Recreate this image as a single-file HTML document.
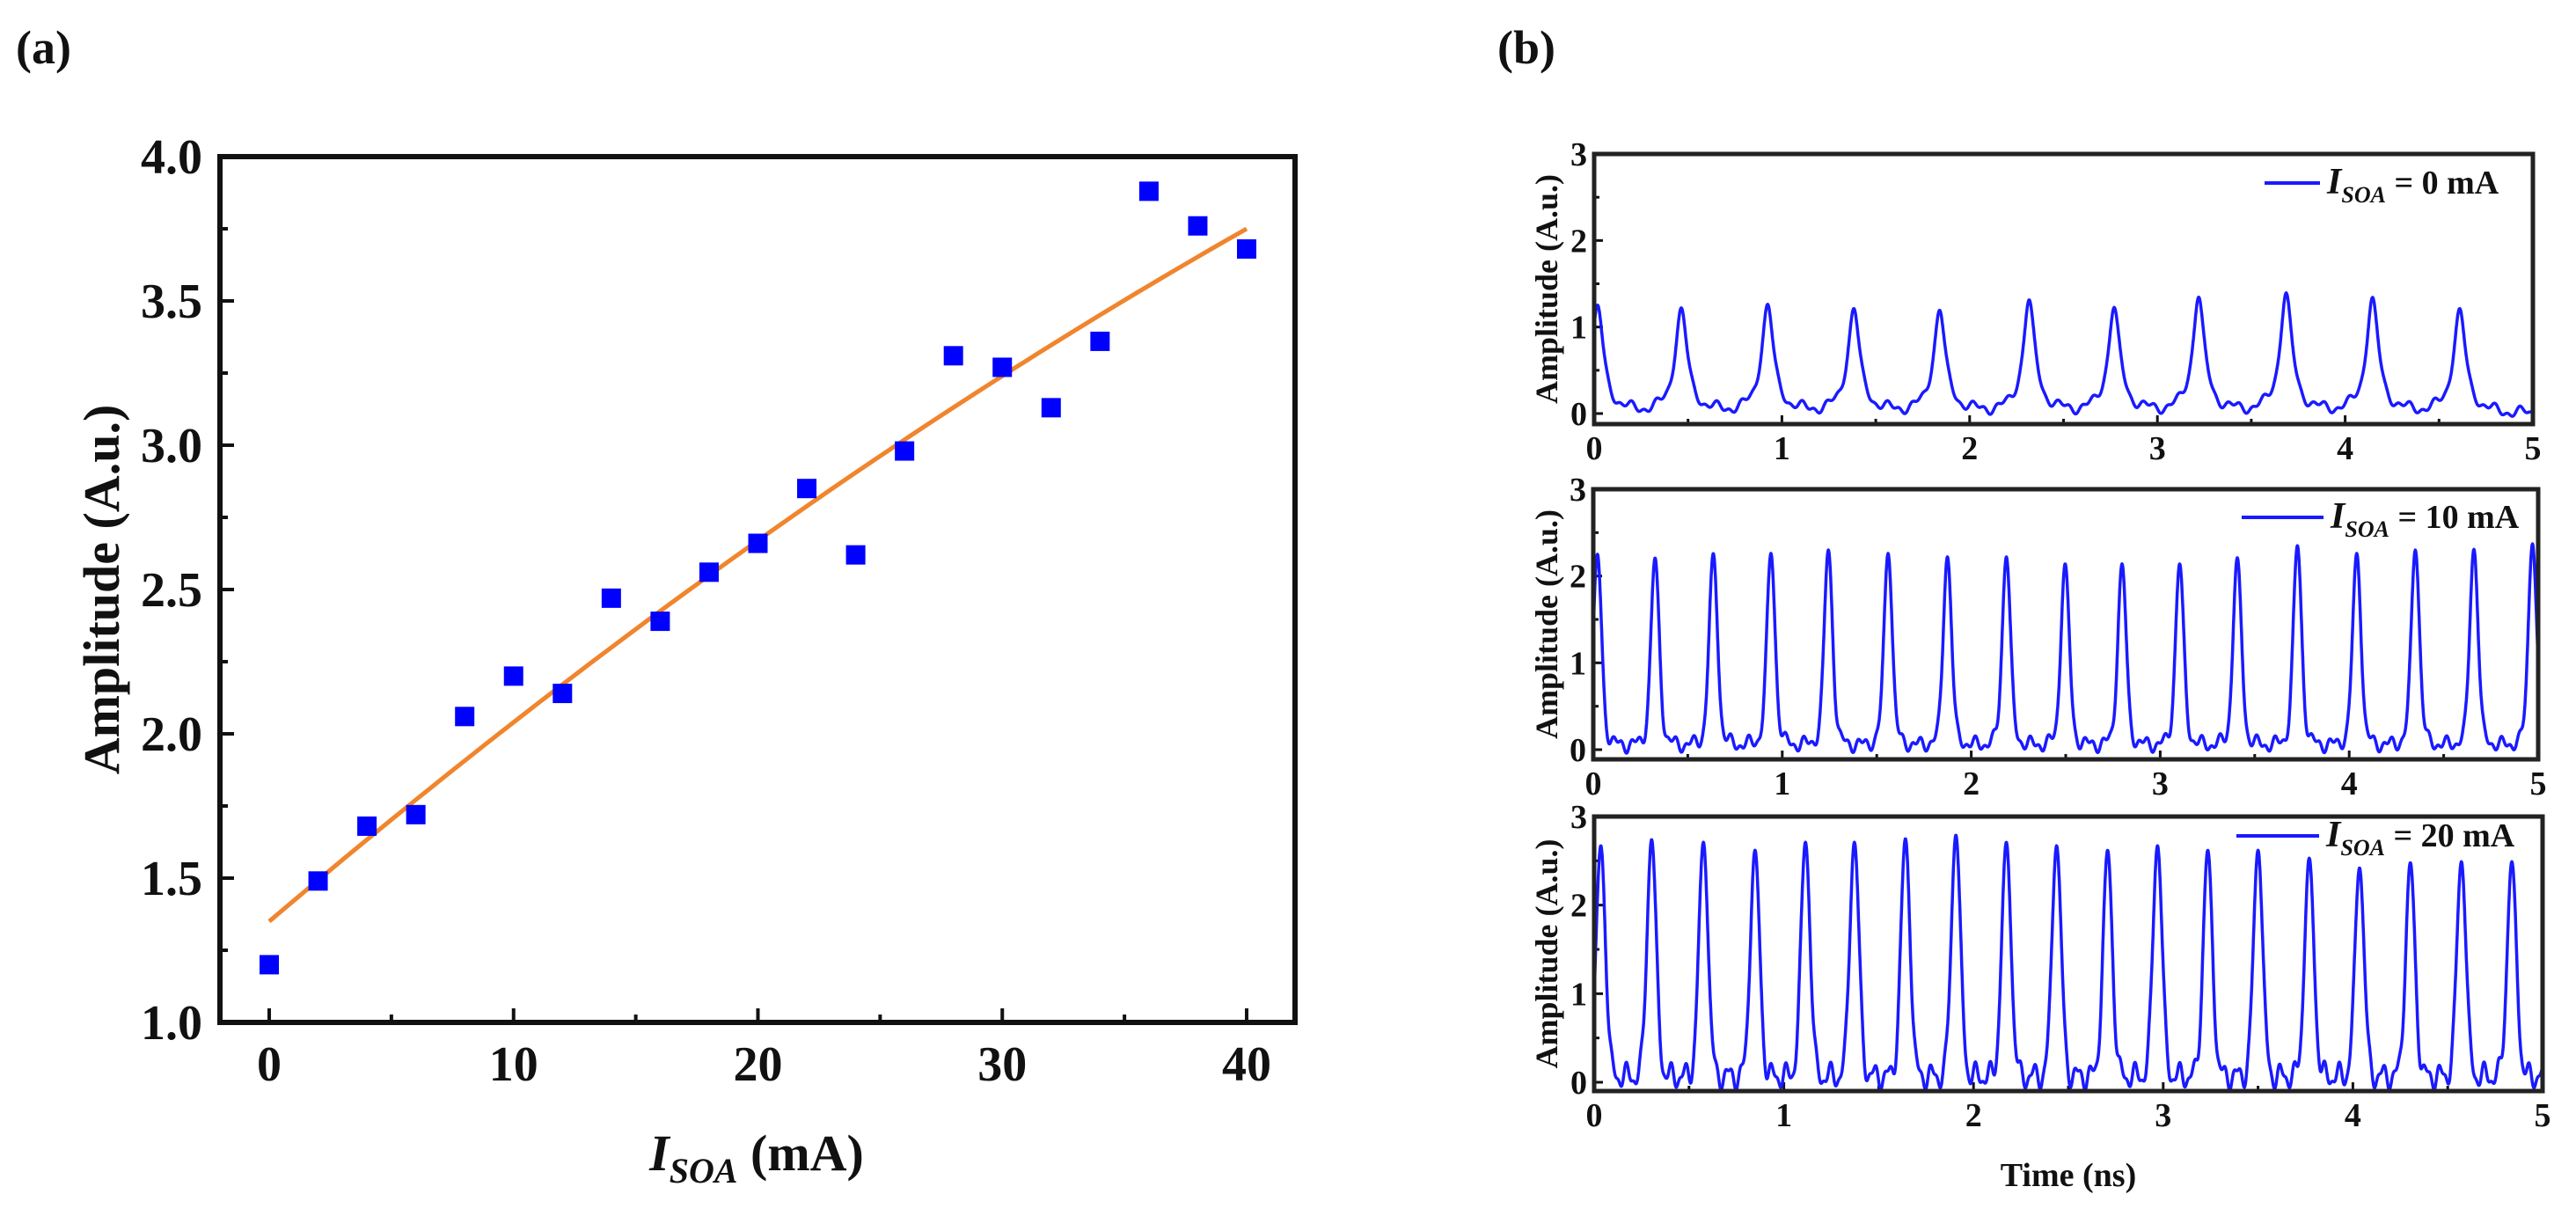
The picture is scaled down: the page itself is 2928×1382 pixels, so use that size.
<!DOCTYPE html>
<html><head><meta charset="utf-8">
<style>
html,body{margin:0;padding:0;background:#fff;}
svg{display:block;}
text{font-family:"Liberation Serif",serif;font-weight:bold;fill:#111;}
</style></head>
<body>
<svg id="fig" width="2928" height="1382" viewBox="0 0 2928 1382" xmlns="http://www.w3.org/2000/svg">
<defs>
<clipPath id="clipA"><rect x="250" y="178" width="1222" height="984"/></clipPath>
<clipPath id="clipB0"><rect x="1812" y="175" width="1067" height="307"/></clipPath>
<clipPath id="clipB1"><rect x="1811" y="556" width="1074" height="307"/></clipPath>
<clipPath id="clipB2"><rect x="1812" y="928" width="1078" height="312"/></clipPath>
</defs>
<text x="18" y="72" font-size="54">(a)</text>
<text x="1702" y="72" font-size="54">(b)</text>
<g id="panelA"></g>
<g id="panelB"></g>
</svg>
<script>
// ---------- Panel (a) data ----------
const currents = [0,2,4,6,8,10,12,14,16,18,20,22,24,26,28,30,32,34,36,38,40];
const amplitudes = [1.20,1.49,1.68,1.72,2.06,2.20,2.14,2.47,2.39,2.56,2.66,2.85,2.62,2.98,3.31,3.27,3.13,3.36,3.88,3.76,3.68];
const fitCoefs = [1.35,0.072,-0.0003];
const xTicksA = [0,10,20,30,40];
const yTicksA = ["1.0","1.5","2.0","2.5","3.0","3.5","4.0"];

// ---------- Panel (b) data ----------
const peakTimes0 = [0.018,0.464,0.924,1.383,1.84,2.317,2.77,3.22,3.686,4.146,4.61];
const peakHeights0 = [1.24,1.20,1.24,1.19,1.17,1.29,1.20,1.32,1.37,1.32,1.20];
const peakTimes1 = [0.022,0.327,0.635,0.94,1.244,1.56,1.874,2.186,2.497,2.798,3.103,3.408,3.726,4.04,4.35,4.66,4.97];
const peakHeights1 = [2.24,2.19,2.24,2.24,2.28,2.24,2.20,2.20,2.12,2.12,2.12,2.19,2.33,2.24,2.28,2.29,2.36];
const peakTimes2 = [0.035,0.303,0.576,0.848,1.114,1.372,1.641,1.907,2.173,2.438,2.707,2.97,3.235,3.5,3.77,4.035,4.303,4.572,4.838];
const peakHeights2 = [2.67,2.74,2.71,2.62,2.71,2.71,2.75,2.79,2.71,2.67,2.62,2.67,2.62,2.62,2.53,2.42,2.48,2.49,2.49];
const xTicksB = [0,1,2,3,4,5];
const yTicksB = [0,1,2,3];
const legendLabels = ["0","10","20"];

const NS = "http://www.w3.org/2000/svg";
function mk(tag, attrs, parent){
  const e = document.createElementNS(NS, tag);
  for (const k in attrs) e.setAttribute(k, attrs[k]);
  parent.appendChild(e);
  return e;
}

// ===== Panel A =====
const gA = document.getElementById('panelA');
const AX = {l:250, r:1472, t:178, b:1162};
const xA = v => 306 + v*(1417-306)/40;
const yA = v => 1162 - (v-1.0)*(1162-178)/3.0;

for (let v=0; v<=40; v+=5){
  const major = v%10===0;
  const t = mk('line',{x1:xA(v),x2:xA(v),y1:AX.b,y2:AX.b-(major?16:9),stroke:'#111','stroke-width':4},gA);
  
  
}
for (let v=1.0; v<=4.001; v+=0.25){
  const major = Math.abs(v*2-Math.round(v*2))<1e-6;
  const t = mk('line',{x1:AX.l,x2:AX.l+(major?16:9),y1:yA(v),y2:yA(v),stroke:'#111','stroke-width':4},gA);
  
  
}
xTicksA.forEach(v=>{
  const t = mk('text',{x:xA(v),y:1228,'font-size':56,'text-anchor':'middle'},gA);
  t.textContent = v;
  
  
});
yTicksA.forEach(s=>{
  const t = mk('text',{x:230,y:yA(parseFloat(s))+19,'font-size':56,'text-anchor':'end'},gA);
  t.textContent = s;
  
  
});
let d='';
for (let i=0;i<=80;i++){
  const x = i*0.5;
  const y = fitCoefs[0]+fitCoefs[1]*x+fitCoefs[2]*x*x;
  d += (i?'L':'M')+xA(x).toFixed(1)+','+yA(y).toFixed(1);
}
const fit = mk('path',{d:d,fill:'none',stroke:'#f0852d','stroke-width':5,'clip-path':'url(#clipA)'},gA);


currents.forEach((c,i)=>{
  const r = mk('rect',{x:xA(c)-11,y:yA(amplitudes[i])-11,width:22,height:22,fill:'#0000ff'},gA);
  
  
});
const frA = mk('rect',{x:AX.l,y:AX.t,width:AX.r-AX.l,height:AX.b-AX.t,fill:'none',stroke:'#111','stroke-width':6},gA);


const xtA = mk('text',{x:860,y:1330,'font-size':58,'text-anchor':'middle'},gA);
xtA.innerHTML = '<tspan font-style="italic">I</tspan><tspan font-style="italic" font-size="40" dy="14">SOA</tspan><tspan dy="-14"> (mA)</tspan>';


const ytA = mk('text',{x:0,y:0,'font-size':58,'text-anchor':'middle',transform:'translate(135,670) rotate(-90)'},gA);
ytA.textContent = 'Amplitude (A.u.)';



// ===== Panel B =====
const gB = document.getElementById('panelB');
const subplots = [
  {l:1812,r:2879,x0:1812,x5:2879,y3:175,y0:470,b:482,times:peakTimes0,heights:peakHeights0,kind:0,clip:'clipB0',leg:[2574,2637,208]},
  {l:1811,r:2885,x0:1811,x5:2885,y3:556,y0:852,b:863,times:peakTimes1,heights:peakHeights1,kind:1,clip:'clipB1',leg:[2548,2641,588]},
  {l:1812,r:2890,x0:1812,x5:2890,y3:928,y0:1230,b:1240,times:peakTimes2,heights:peakHeights2,kind:2,clip:'clipB2',leg:[2542,2636,950]}
];
function shape(kind, dt){
  if (kind===0) return 1/(1+Math.pow(dt/0.038,2));
  if (kind===1) return 0.88*Math.exp(-dt*dt/(2*0.021*0.021)) + 0.12/(1+Math.pow(dt/0.05,2));
  return Math.exp(-dt*dt/(2*0.024*0.024));
}
function ripple(kind,t){
  if (kind===0) return -0.01+0.05*Math.sin(t*41)+0.03*Math.sin(t*97+1);
  if (kind===1) return 0.0+0.06*Math.sin(t*63)+0.04*Math.sin(t*131+0.5);
  return 0.07+0.11*Math.sin(t*82)+0.05*Math.sin(t*157+0.3);
}
subplots.forEach((sp,k)=>{
  const g = mk('g',{},gB);
  
  
  const xs = v => sp.x0 + v*(sp.x5-sp.x0)/5;
  const ys = v => sp.y0 - v*(sp.y0-sp.y3)/3;
  for (let v=0; v<=5; v+=0.5){
    const major = Number.isInteger(v);
    const t = mk('line',{x1:xs(v),x2:xs(v),y1:sp.b,y2:sp.b-(major?10:6),stroke:'#111','stroke-width':3},g);
    
    
  }
  for (let v=0; v<=3; v+=0.5){
    const major = Number.isInteger(v);
    const t = mk('line',{x1:sp.l,x2:sp.l+(major?10:6),y1:ys(v),y2:ys(v),stroke:'#111','stroke-width':3},g);
    
    
  }
  xTicksB.forEach(v=>{
    const t = mk('text',{x:xs(v),y:sp.b+40,'font-size':38,'text-anchor':'middle'},g);
    t.textContent = v;
    
    
  });
  yTicksB.forEach(v=>{
    const t = mk('text',{x:sp.l-8,y:ys(v)+13,'font-size':38,'text-anchor':'end'},g);
    t.textContent = v;
    
    
  });
  let p='';
  for (let i=0;i<=2500;i++){
    const t = i*0.002;
    let y = 0;
    let maxs = 0;
    sp.times.forEach((tp,j)=>{ const s = shape(sp.kind,t-tp); y += sp.heights[j]*s; if(s>maxs) maxs=s; });
    y += ripple(sp.kind,t)*(1-maxs);
    p += (i?'L':'M')+xs(t).toFixed(1)+','+ys(y).toFixed(1);
  }
  const w = mk('path',{d:p,fill:'none',stroke:'#1a1aff','stroke-width':3.5,'stroke-linejoin':'round','clip-path':'url(#'+sp.clip+')'},g);
  
  
  const fr = mk('rect',{x:sp.l,y:sp.y3,width:sp.r-sp.l,height:sp.b-sp.y3,fill:'none',stroke:'#222','stroke-width':5},g);
  
  
  const ll = mk('line',{x1:sp.leg[0],x2:sp.leg[1],y1:sp.leg[2],y2:sp.leg[2],stroke:'#1a1aff','stroke-width':4},g);
  
  
  const lt = mk('text',{x:sp.leg[1]+8,y:sp.leg[2]+12,'font-size':38},g);
  lt.innerHTML = '<tspan font-style="italic" font-size="42">I</tspan><tspan font-style="italic" font-size="26" dy="10">SOA</tspan><tspan dy="-10"> = '+legendLabels[k]+' mA</tspan>';
  
  
  const yt = mk('text',{x:0,y:0,'font-size':36,'text-anchor':'middle',transform:'translate(1770,'+((sp.y3+sp.b)/2)+') rotate(-90)'},g);
  yt.textContent = 'Amplitude (A.u.)';
  
  
});
const tt = mk('text',{x:2351,y:1348,'font-size':38,'text-anchor':'middle'},gB);
tt.textContent = 'Time (ns)';


</script>
</body></html>
